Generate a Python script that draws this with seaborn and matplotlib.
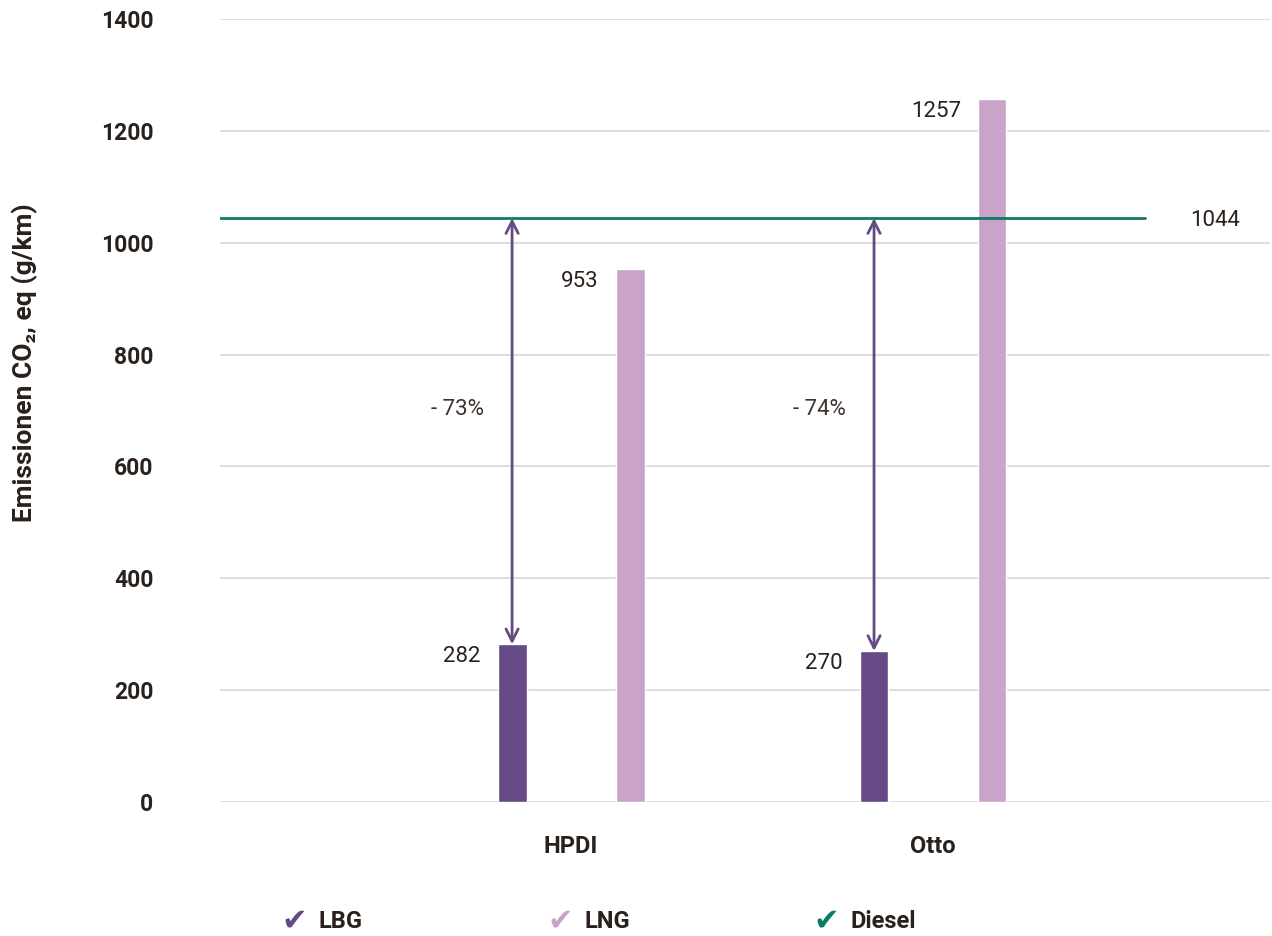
import matplotlib
matplotlib.use("Agg")
import matplotlib.pyplot as plt
import seaborn as sns
import pandas as pd

categories = ["HPDI", "Otto"]
series = ["LBG", "LNG"]
lbg_values = [282, 270]
lng_values = [953, 1257]
diesel_value = 1044
reductions = ["- 73%", "- 74%"]
y_ticks = [0, 200, 400, 600, 800, 1000, 1200, 1400]

C_LBG = "#664a85"
C_LNG = "#c9a3c9"
C_DIESEL = "#0e7a65"
C_TEXT = "#2b211c"
C_GRID = "#d3d3d3"

sns.set_theme(style="white")
plt.rcParams["font.family"] = ["Roboto", "DejaVu Sans"]

df = pd.DataFrame({
    "cat": categories * 2,
    "series": [series[0]] * 2 + [series[1]] * 2,
    "value": lbg_values + lng_values,
})

fig = plt.figure(figsize=(12.72, 9.36), dpi=100)
ax = fig.add_axes([220 / 1272, (936 - 802) / 936, 1050 / 1272, (802 - 19) / 936])

sns.barplot(data=df, x="cat", y="value", hue="series", order=categories,
            hue_order=series, palette=[C_LBG, C_LNG], width=0.652, gap=0.755,
            saturation=1, legend=False, ax=ax, zorder=3)

ax.set_xlim(-0.970, 1.931)
ax.set_ylim(0, 1400)
ax.set_yticks(y_ticks)
ax.yaxis.grid(True, color=C_GRID, linewidth=1.1, zorder=0)
ax.xaxis.grid(False)
for s in ax.spines.values():
    s.set_visible(False)
ax.tick_params(axis="both", length=0)
ax.tick_params(axis="y", pad=48)
ax.tick_params(axis="x", pad=24)
for lab in ax.get_yticklabels():
    lab.set_fontweight("bold"); lab.set_fontsize(16.5); lab.set_color(C_TEXT)
for lab in ax.get_xticklabels():
    lab.set_fontweight("bold"); lab.set_fontsize(17); lab.set_color(C_TEXT)
ax.set_xlabel("")
ax.set_ylabel("Emissionen CO₂, eq (g/km)", fontsize=19, fontweight="bold",
              color=C_TEXT, labelpad=0)
ax.yaxis.set_label_coords(-182 / 1050, 0.561)

# Diesel reference line
ax.axhline(diesel_value, xmin=0, xmax=(1145 - 220) / 1050, color=C_DIESEL,
           linewidth=2, zorder=4)
ax.annotate(str(diesel_value), xy=(1.931, diesel_value), xytext=(-22, -2),
            textcoords="offset points", ha="right", va="center",
            fontsize=16, color=C_TEXT)

# bar labels and arrows
bars = sorted([p for p in ax.patches if p.get_height() > 0], key=lambda p: p.get_x())
for p in bars:
    h = p.get_height()
    ax.annotate(f"{int(round(h))}", xy=(p.get_x(), h), xytext=(-12, -9),
                textcoords="offset points", ha="right", va="center",
                fontsize=16, color=C_TEXT)

lbg_bars = [p for p in bars if p.get_height() in lbg_values]
for p, txt in zip(lbg_bars, reductions):
    xc = p.get_x() + p.get_width() / 2
    ax.annotate("", xy=(xc, p.get_height()), xytext=(xc, diesel_value),
                arrowprops=dict(arrowstyle="<->", color=C_LBG, lw=2,
                                mutation_scale=22, shrinkA=0, shrinkB=0),
                zorder=5)
    ax.annotate(txt, xy=(xc, 701), xytext=(-39, 0), textcoords="offset points",
                ha="center", va="center", fontsize=16, color="#3d332e",
                fontweight="normal")

# legend
legend_items = [("LBG", C_LBG, 281), ("LNG", C_LNG, 547), ("Diesel", C_DIESEL, 813)]
for name, col, xpx in legend_items:
    fig.text(xpx / 1272, 1 - 921 / 936, "✔", color=col, fontsize=22,
             family="DejaVu Sans", va="center", ha="left")
    fig.text((xpx + 37) / 1272, 1 - 921 / 936, name, color=C_TEXT, fontsize=17,
             fontweight="bold", va="center", ha="left")

fig.savefig("out.png", dpi=100)
